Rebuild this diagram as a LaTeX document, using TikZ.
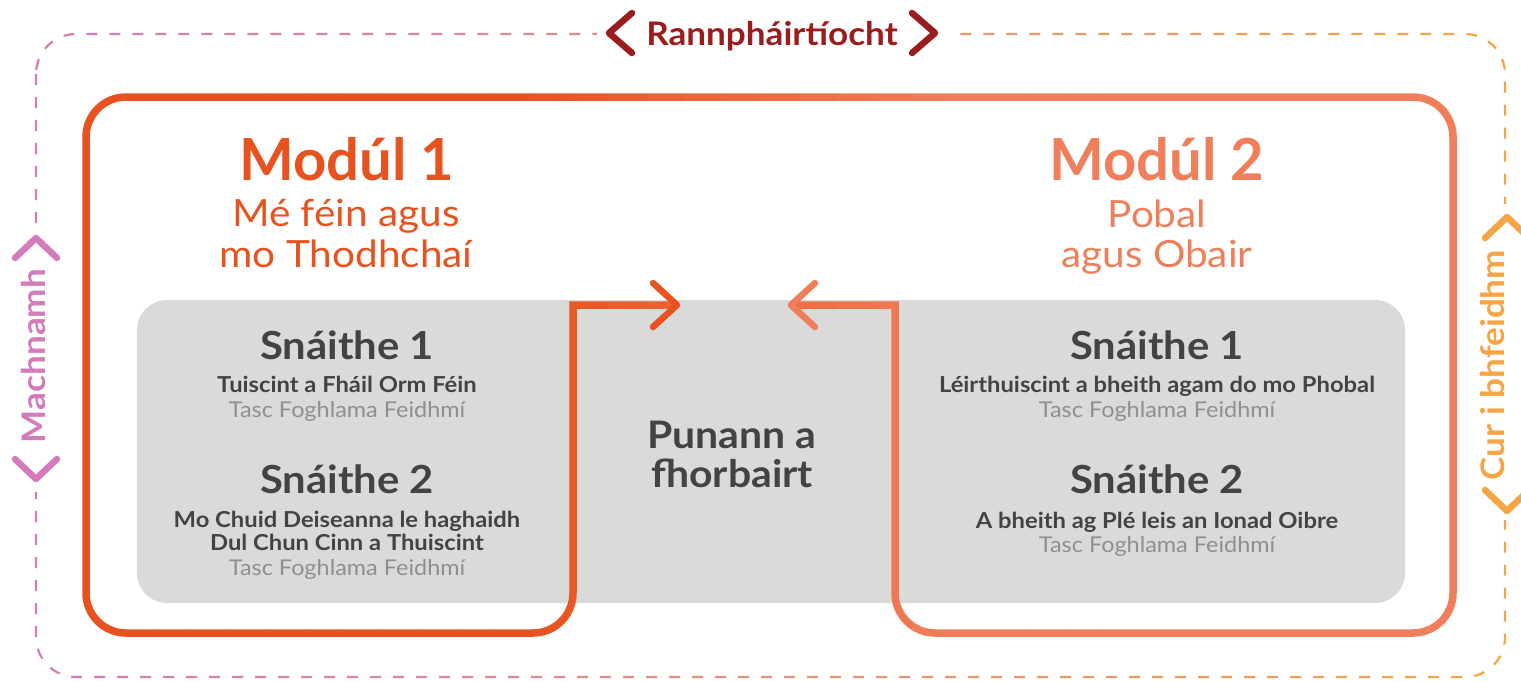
\documentclass[tikz,border=0pt]{standalone}
\usepackage{fontspec}
\setmainfont{Lato}
\newfontfamily\widefont{Lato}[FakeStretch=1.08]
\definecolor{modA}{HTML}{E8521E}
\definecolor{modB}{HTML}{F07E5A}
\definecolor{dpink}{HTML}{D47CB9}
\definecolor{damber}{HTML}{F6A545}
\definecolor{dred}{HTML}{9B1C1C}
\definecolor{boxgrey}{HTML}{DADAD9}
\definecolor{darktxt}{HTML}{434343}
\definecolor{lighttxt}{HTML}{8F8F8F}
\tikzset{
  sidelbl/.style={font=\widefont\bfseries\fontsize{32.5}{36}\selectfont, anchor=base, inner sep=0pt},
  chev/.style={line width=6.5pt, line cap=round, line join=round},
  modtitle/.style={font=\bfseries\fontsize{58}{64}\selectfont, anchor=base, inner sep=0pt},
  modsub/.style={font=\widefont\fontsize{37.5}{40}\selectfont, anchor=base, inner sep=0pt},
  strand/.style={font=\widefont\bfseries\fontsize{38.7}{42}\selectfont, text=darktxt, anchor=base, inner sep=0pt},
  strdesc/.style={font=\widefont\bfseries\fontsize{22}{24}\selectfont, text=darktxt, anchor=base, inner sep=0pt},
  strtask/.style={font=\widefont\fontsize{21.7}{24}\selectfont, text=lighttxt, anchor=base, inner sep=0pt},
  center/.style={font=\widefont\bfseries\fontsize{37.9}{40}\selectfont, text=darktxt, anchor=base, inner sep=0pt},
  gap/.style={fill=white, inner sep=0pt},
  dashline/.style={line width=2.2pt, dash pattern=on 11pt off 12pt},
  modline/.style={line width=7.5pt}
}
\def\modpath{(675,305) -- (573,305) -- (573,593) arc[start angle=0,end angle=90,radius=40] -- (126,633) arc[start angle=90,end angle=180,radius=40] -- (86,137) arc[start angle=180,end angle=270,radius=40] -- (1413,97) arc[start angle=270,end angle=360,radius=40] -- (1453,593) arc[start angle=0,end angle=90,radius=40] -- (935,633) arc[start angle=90,end angle=180,radius=40] -- (895,305) -- (795,305)}
\begin{document}
\begin{tikzpicture}[x=1pt,y=-1pt]
\useasboundingbox (0,0) rectangle (1521,681);
% outer dashed frame with pink -> amber gradient
\foreach \i in {0,...,39} {
  \pgfmathsetmacro\xa{\i*38.025}
  \pgfmathsetmacro\xb{\xa+38.6}
  \pgfmathsetmacro\p{min(100,max(0,(\xa+19-36)/14.69))}
  \begin{scope}
    \clip (\xa,-5) rectangle (\xb,690);
    \draw[dashline, draw=damber!\p!dpink, rounded corners=40pt] (36,34) rectangle (1505,677);
  \end{scope}
}
% grey panel
\node[fill=boxgrey, rounded corners=30pt, minimum width=1268pt, minimum height=303pt, inner sep=0pt] (panel) at (771,451.5) {};
% module outline with gradient
\foreach \i in {0,...,39} {
  \pgfmathsetmacro\xa{\i*38.025}
  \pgfmathsetmacro\xb{\xa+38.6}
  \pgfmathsetmacro\p{min(100,max(0,(\xa+19-520)/4.3))}
  \begin{scope}
    \clip (\xa,-5) rectangle (\xb,690);
    \draw[modline, draw=modB!\p!modA] \modpath;
  \end{scope}
}
\coordinate (tipA) at (677,305);
\coordinate (tipB) at (791,305);
\draw[chev, modA] ([shift={(-24,-22)}]tipA) -- (tipA) -- ([shift={(-24,22)}]tipA);
\draw[chev, modB] ([shift={(24,-22)}]tipB) -- (tipB) -- ([shift={(24,22)}]tipB);
% top label
\node[gap, minimum width=352pt, minimum height=16pt] (topgap) at (773,34) {};
\node[sidelbl, text=dred] (toplbl) at (772,45) {Rannpháirtíocht};
\draw[chev, dred] (632,13) -- (609,33) -- (632,53);
\draw[chev, dred] (912,13) -- (935,33) -- (912,53);
% left label
\node[gap, minimum width=16pt, minimum height=268pt] (leftgap) at (36,358) {};
\node[sidelbl, text=dpink, rotate=90] (leftlbl) at (45,356) {Machnamh};
\draw[chev, dpink] (15,258) -- (36,238) -- (57,258);
\draw[chev, dpink] (15,459) -- (36,479) -- (57,459);
% right label
\node[gap, minimum width=16pt, minimum height=316pt] (rightgap) at (1505,362) {};
\node[sidelbl, text=damber, rotate=90] (rightlbl) at (1504,365) {Cur i bhfeidhm};
\draw[chev, damber] (1485,238) -- (1507,217) -- (1529,238);
\draw[chev, damber] (1485,490) -- (1507,511) -- (1529,490);
% module titles
\node[modtitle, text=modA] (m1t) at (347,180) {Modúl 1};
\node[modsub, text=modA] (m1a) at (346,226) {Mé féin agus};
\node[modsub, text=modA] (m1b) at (346,267) {mo Thodhchaí};
\node[modtitle, text=modB] (m2t) at (1157,180) {Modúl 2};
\node[modsub, text=modB] (m2a) at (1157,227) {Pobal};
\node[modsub, text=modB] (m2b) at (1157,267) {agus Obair};
% module 1 strands
\node[strand] (l1) at (347,359) {Snáithe 1};
\node[strdesc] (l1d) at (347,392) {Tuiscint a Fháil Orm Féin};
\node[strtask] (l1t) at (347,417) {Tasc Foghlama Feidhmí};
\node[strand] (l2) at (347,493) {Snáithe 2};
\node[strdesc] (l2d) at (347,527) {Mo Chuid Deiseanna le haghaidh};
\node[strdesc] (l2e) at (347,550) {Dul Chun Cinn a Thuiscint};
\node[strtask] (l2t) at (347,575) {Tasc Foghlama Feidhmí};
% module 2 strands
\node[strand] (r1) at (1157,359) {Snáithe 1};
\node[strdesc] (r1d) at (1157,392) {Léirthuiscint a bheith agam do mo Phobal};
\node[strtask] (r1t) at (1157,417) {Tasc Foghlama Feidhmí};
\node[strand] (r2) at (1157,493) {Snáithe 2};
\node[strdesc] (r2d) at (1157,528) {A bheith ag Plé leis an Ionad Oibre};
\node[strtask] (r2t) at (1157,552) {Tasc Foghlama Feidhmí};
% centre
\node[center] (c1) at (732,448) {Punann a};
\node[center] (c2) at (732,487) {fhorbairt};
\end{tikzpicture}
\end{document}
